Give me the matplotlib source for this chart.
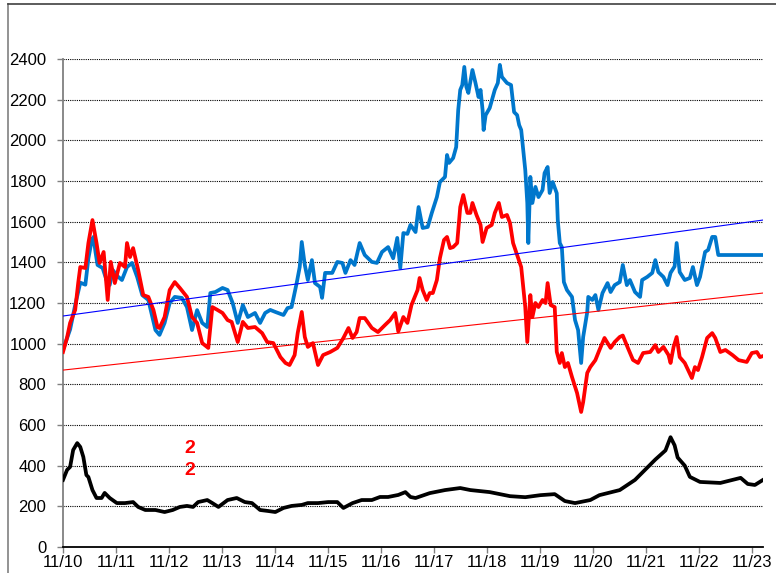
import numpy as np
import matplotlib
matplotlib.use("Agg")
import matplotlib.pyplot as plt
import matplotlib.dates as mdates
from matplotlib.lines import Line2D

plt.rcParams['font.family'] = ['Liberation Sans', 'DejaVu Sans']

START = np.datetime64('2010-11-01')

# weeks since start, values
blue_w = [0,7,12,17,22,25,28,30,32,34,39,43,46,49,54,58,63,68,73,78,84,88,91,95,100,105,110,117,122,127,132,137,142,145,150,157,162,167,172,177,182,189,194,199,204,209,217,221,225,230,233,235,238,241,245,248,253,255,258,265,270,275,278,283,287,292,297,304,309,314,320,325,329,332,335,339,342,347,350,354,359,363,368,371,376,378,380,384,387,389,391,393,395,397,399,403,406,409,411,413,414,416,420,425,428,430,432,437,441,444,447,449,451,455,457,458,460,462,465,468,472,474,477,479,482,486,487,489,491,493,496,501,504,507,510,512,516,517,521,524,527,531,536,539,543,548,551,555,558,563,568,570,575,580,583,586,591,595,598,602,604,607,612,617,620,624,627,632,635,639,642,645,689]
blue_v = [970,1070,1190,1300,1290,1420,1500,1525,1450,1387,1372,1310,1289,1362,1330,1313,1377,1397,1328,1239,1215,1130,1067,1043,1102,1200,1230,1225,1180,1067,1165,1102,1082,1249,1254,1274,1264,1200,1102,1190,1131,1151,1102,1151,1166,1156,1141,1175,1180,1298,1377,1500,1387,1313,1411,1298,1279,1225,1348,1348,1402,1397,1348,1411,1387,1495,1436,1402,1397,1451,1475,1420,1520,1372,1544,1540,1584,1549,1672,1569,1574,1643,1721,1795,1820,1928,1889,1913,1967,2149,2248,2272,2361,2263,2233,2346,2282,2213,2248,2149,2051,2124,2159,2248,2282,2371,2312,2282,2272,2139,2124,2075,2051,1854,1692,1495,1820,1692,1771,1721,1756,1839,1869,1741,1795,1740,1608,1495,1475,1303,1264,1230,1116,1067,905,1033,1156,1230,1215,1239,1166,1249,1298,1254,1288,1303,1387,1288,1313,1254,1230,1313,1328,1348,1411,1352,1328,1288,1348,1380,1495,1352,1313,1323,1377,1288,1328,1451,1461,1525,1525,1436,1436]

red_w = [0,4,7,12,15,17,22,25,29,33,36,40,44,47,51,56,61,63,66,69,74,79,84,89,93,95,100,105,110,115,122,127,132,137,143,147,152,157,162,166,172,177,182,189,196,201,207,214,219,223,228,231,235,238,241,246,251,256,263,270,276,281,285,289,292,297,304,310,317,322,327,330,335,339,343,349,351,354,358,361,364,368,371,375,378,381,384,388,391,394,398,401,403,407,411,413,417,422,425,429,432,437,440,443,447,451,455,457,460,462,465,468,472,475,477,480,484,486,489,491,494,497,501,506,510,512,516,519,524,528,533,539,543,548,551,556,561,566,571,578,583,586,591,596,598,601,604,607,612,619,622,625,629,634,639,642,647,652,659,665,673,678,683,686,689]
red_v = [959,1030,1102,1166,1300,1377,1372,1495,1608,1495,1397,1451,1215,1402,1298,1397,1377,1495,1426,1470,1362,1239,1230,1166,1082,1077,1131,1264,1303,1274,1230,1131,1102,1003,979,1180,1166,1151,1116,1107,1008,1107,1077,1082,1052,1008,1003,934,905,895,944,1052,1156,1033,984,1003,895,944,959,979,1028,1077,1028,1057,1126,1126,1077,1057,1092,1116,1151,1060,1131,1102,1190,1264,1323,1264,1215,1249,1249,1313,1421,1510,1525,1470,1475,1495,1672,1731,1643,1643,1692,1633,1584,1500,1569,1584,1643,1692,1623,1633,1593,1495,1436,1377,1180,1008,1239,1131,1200,1180,1215,1200,1298,1190,1180,960,905,954,885,905,836,757,664,713,856,885,919,969,1028,979,1008,1033,1040,979,920,905,954,959,993,959,984,944,905,984,1033,934,905,831,885,870,934,1028,1052,1028,959,969,944,919,910,954,959,934,939]

black_w = [0,4,7,10,14,17,20,23,25,29,33,38,41,46,53,61,69,74,81,91,100,108,115,122,128,133,142,147,153,162,171,179,186,194,202,209,217,225,235,241,251,261,270,276,285,294,304,312,320,330,337,342,347,361,376,391,401,420,440,455,470,484,494,504,519,528,548,563,573,583,593,598,602,605,612,617,627,647,667,674,681,689]
black_v = [330,379,394,477,511,492,443,354,344,280,241,241,266,241,216,216,221,197,182,182,172,182,197,202,197,221,231,216,197,231,241,221,216,182,177,172,192,202,207,216,216,221,221,192,216,231,231,246,246,256,270,246,241,265,280,290,280,270,250,245,255,260,226,216,231,255,280,330,380,430,475,540,500,440,400,345,320,315,340,310,305,330]

trend_w = [0, 689]
blue_trend = [1136, 1608]
red_trend = [870, 1249]

label_w = [125, 125]
label_v = [482, 374]
label_txt = ['2', '2']

y_ticks = list(range(0, 2401, 200))


def to_dates(w):
    return START + np.array(w, dtype='int64') * np.timedelta64(7, 'D')


fig = plt.figure(figsize=(7.76, 5.73), dpi=100)
ax = fig.add_axes([63/776, 26/573, 700/776, 488/573])

for yt in y_ticks[1:]:
    ax.axhline(yt, color='black', lw=0.8, ls=(0, (1, 1)), zorder=1)

ax.plot(to_dates(blue_w), blue_v, color='#0077CC', lw=2.7, zorder=3, solid_joinstyle='round')
ax.plot(to_dates(red_w), red_v, color='#FF0000', lw=2.7, zorder=4, solid_joinstyle='round')
ax.plot(to_dates(black_w), black_v, color='black', lw=2.7, zorder=4, solid_joinstyle='round')
ax.plot(to_dates(trend_w), blue_trend, color='#0000FF', lw=0.8, zorder=5)
ax.plot(to_dates(trend_w), red_trend, color='#FF0000', lw=0.8, zorder=5)

for w, v, t in zip(label_w, label_v, label_txt):
    ax.text(to_dates([w])[0], v, t, color='#FF0000', fontsize=14, fontweight='bold',
            ha='center', va='center', zorder=6)

ax.set_ylim(0, 2400)
ax.set_xlim(to_dates([0])[0], to_dates([689])[0])
ax.set_yticks(y_ticks)
ax.xaxis.set_major_locator(mdates.MonthLocator(bymonth=[11], bymonthday=1))
ax.xaxis.set_major_formatter(mdates.DateFormatter('%m/%y'))

for s in ['top', 'right']:
    ax.spines[s].set_visible(False)
ax.spines['left'].set_color('#808080')
ax.spines['left'].set_linewidth(1.3)
ax.spines['bottom'].set_color('black')
ax.spines['bottom'].set_linewidth(1.3)
ax.tick_params(axis='y', length=4, width=1, color='#808080', labelsize=12, pad=8)
ax.tick_params(axis='x', length=4, width=1, color='#808080', labelsize=12, pad=2)

fig.add_artist(Line2D([8/776, 8/776], [0, 1 - 4/573], color='#808080', lw=1.2, transform=fig.transFigure))
fig.add_artist(Line2D([8/776, 1], [1 - 4/573, 1 - 4/573], color='#404040', lw=1.2, transform=fig.transFigure))

fig.savefig('out.png', dpi=100)
